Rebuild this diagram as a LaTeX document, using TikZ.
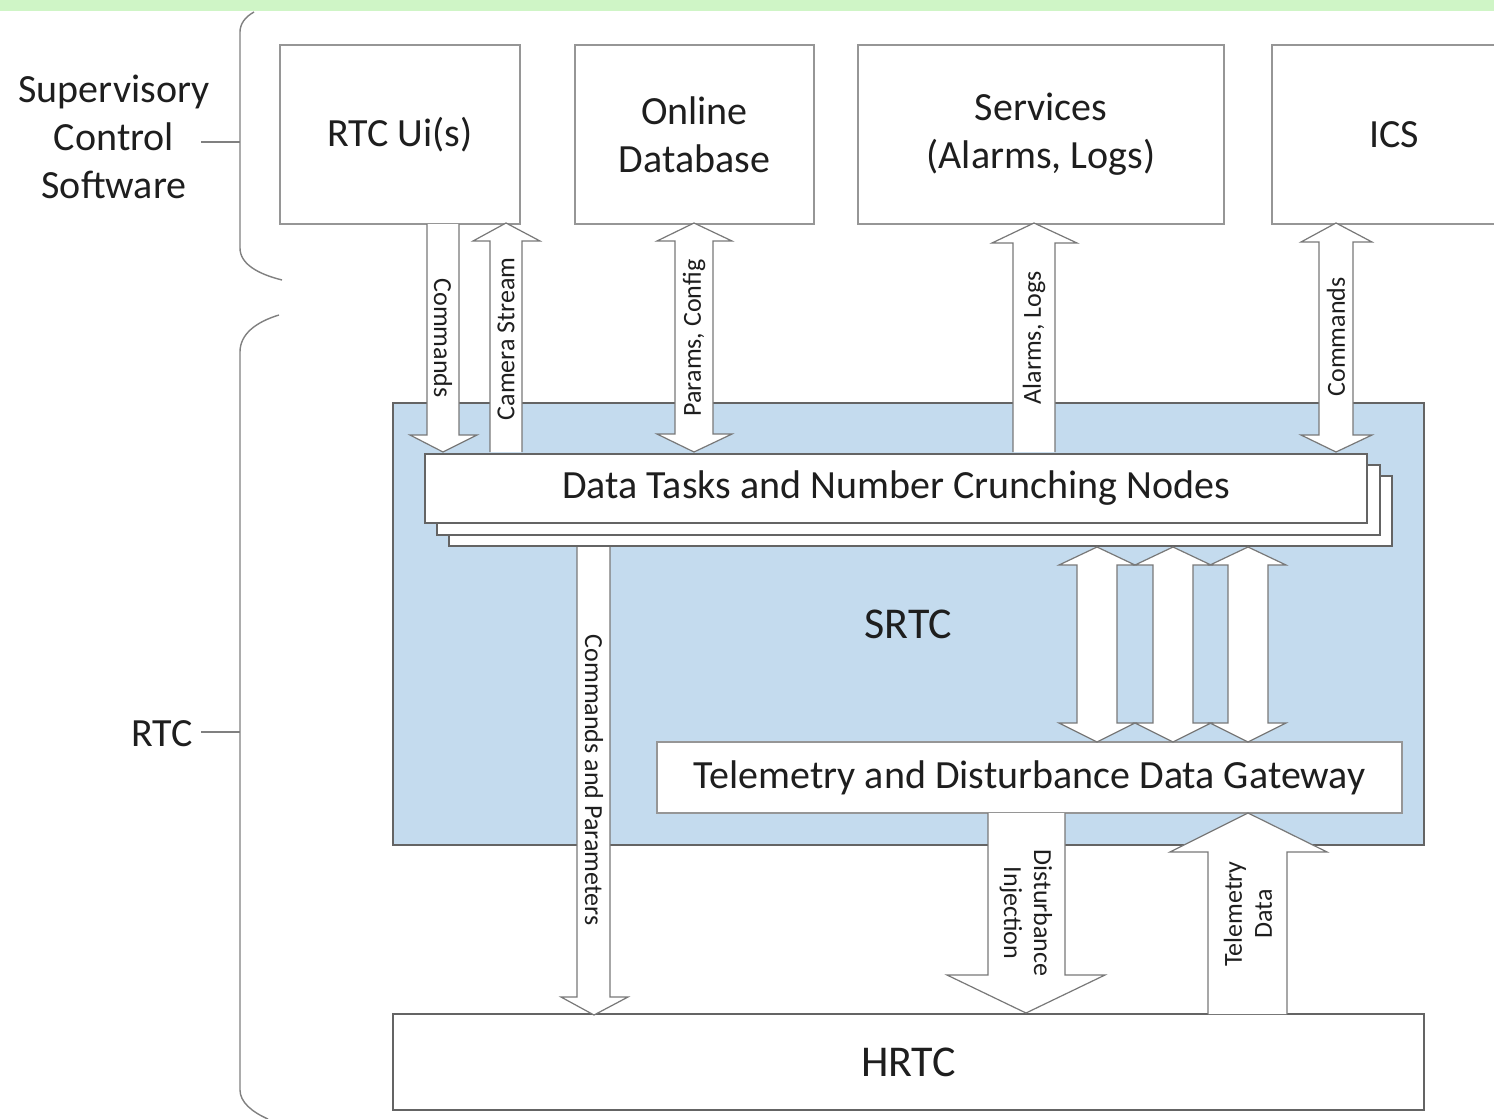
\documentclass[tikz,border=0pt]{standalone}
\usepackage{fontspec}
\setmainfont{Carlito}
\definecolor{bandgreen}{RGB}{207,245,198}
\definecolor{srtcblue}{RGB}{196,219,238}
\definecolor{boxgray}{RGB}{150,150,150}
\definecolor{darkgray}{RGB}{100,100,100}
\definecolor{arrowgray}{RGB}{120,120,120}
\definecolor{txt}{RGB}{30,30,30}
\tikzset{
  big/.style={font=\fontsize{40}{48}\selectfont, text=txt},
  small/.style={font=\fontsize{26}{30}\selectfont, text=txt, inner sep=0pt},
  topbox/.style={draw=boxgray, line width=1.3pt, fill=white, big, align=center, inner sep=0pt},
  stackbox/.style={draw=darkgray, line width=1.2pt, fill=white, big, inner sep=0pt},
  blk/.style={draw=arrowgray, fill=white, line width=1.2pt, line join=miter},
  brk/.style={draw=gray, line width=1.4pt},
}
\begin{document}
\begin{tikzpicture}[x=1pt,y=-1pt]
\useasboundingbox (0,0) rectangle (1494,1119);
\clip (0,0) rectangle (1494,1119);
\fill[white] (0,0) rectangle (1494,1119);
\fill[bandgreen] (0,0) rectangle (1494,11);

% brackets
\draw[brk] (254,12) .. controls (245,17) and (240,24) .. (240,32) -- (240,248) .. controls (240,264) and (258,274) .. (282,280);
\draw[brk] (279,315) .. controls (256,322) and (240,334) .. (240,352) -- (240,1090) .. controls (240,1102) and (252,1112) .. (268,1119);
\draw[brk] (201,142) -- (240,142);
\draw[brk] (201,732) -- (240,732);
\node[big, align=center, inner sep=0pt] (sup) at (114,137) {Supervisory\\Control\\Software};
\node[big, anchor=east, inner sep=0pt] (rtc) at (193,734) {RTC};

% top boxes
\node[topbox, minimum width=240, minimum height=179] (ui) at (400,134.5) {RTC Ui(s)};
\node[topbox, minimum width=239, minimum height=179] (db) at (694.5,134.5) {Online\\Database};
\node[topbox, minimum width=366, minimum height=179] (srv) at (1041,134.5) {Services\\(Alarms, Logs)};
\node[topbox, minimum width=244, minimum height=179] (ics) at (1394,134.5) {ICS};

% SRTC area
\node[draw=darkgray, line width=1.3pt, fill=srtcblue, minimum width=1031, minimum height=442, inner sep=0pt, font=\fontsize{44}{50}\selectfont, text=txt] (srtc) at (908.5,624) {SRTC};

% arrows from the supervisory boxes
\draw[blk] (427,224) -- (427,435) -- (410,435) -- (443,452) -- (477,435) -- (459,435) -- (459,224);
\node[small, rotate=-90] (lcmd) at (443,338) {Commands};
\draw[blk] (490,452) -- (490,241) -- (473,241) -- (506,223) -- (540,241) -- (522,241) -- (522,452);
\node[small, rotate=90] (lcam) at (506,339) {Camera Stream};
\draw[blk] (675,241) -- (657,241) -- (694,223) -- (732,241) -- (713,241) -- (713,434) -- (732,434) -- (694,452) -- (657,434) -- (675,434) -- cycle;
\node[small, rotate=90] (lpar) at (694,338) {Params, Config};
\draw[blk] (1013,452) -- (1013,243) -- (992,243) -- (1034,223) -- (1077,243) -- (1055,243) -- (1055,452);
\node[small, rotate=90] (lal) at (1034,338) {Alarms, Logs};
\draw[blk] (1319,242) -- (1301,242) -- (1336,223) -- (1372,242) -- (1353,242) -- (1353,435) -- (1372,435) -- (1336,452) -- (1301,435) -- (1319,435) -- cycle;
\node[small, rotate=90] (lics) at (1336,337) {Commands};

% stacked processing nodes
\node[stackbox, minimum width=943, minimum height=70] (dt3) at (920.5,511) {};
\node[stackbox, minimum width=943, minimum height=70] (dt2) at (908.5,500) {};
\node[stackbox, minimum width=942, minimum height=69] (dt1) at (896,488.5) {Data Tasks and Number Crunching Nodes};

% gateway
\node[stackbox, draw=boxgray, minimum width=745, minimum height=71] (gw) at (1029.5,777.5) {Telemetry and Disturbance Data Gateway};

% HRTC
\node[stackbox, minimum width=1031, minimum height=96, font=\fontsize{44}{50}\selectfont] (hrtc) at (908.5,1062) {HRTC};

% three double arrows between nodes and gateway
\foreach \c in {1097,1173,1248}{
  \draw[blk] (\c-20,565) -- (\c-38,565) -- (\c,547) -- (\c+38,565) -- (\c+20,565) -- (\c+20,723) -- (\c+38,723) -- (\c,742) -- (\c-38,723) -- (\c-20,723) -- cycle;
}

% commands and parameters
\draw[blk] (577,547) -- (577,997) -- (561,997) -- (594,1015) -- (628,997) -- (610,997) -- (610,547);
\node[small, rotate=-90] (lcp) at (594,780) {Commands and Parameters};

% disturbance injection
\draw[blk] (988,813) -- (988,975) -- (947,975) -- (1026,1013) -- (1105,975) -- (1065,975) -- (1065,813);
\node[small, rotate=-90, align=center] (ldi) at (1026,913) {Disturbance\\Injection};

% telemetry data
\draw[blk] (1208,1014) -- (1208,852) -- (1170,852) -- (1248,813) -- (1327,852) -- (1287,852) -- (1287,1014);
\node[small, rotate=90, align=center] (ltd) at (1248,914) {Telemetry\\Data};
\end{tikzpicture}
\end{document}
